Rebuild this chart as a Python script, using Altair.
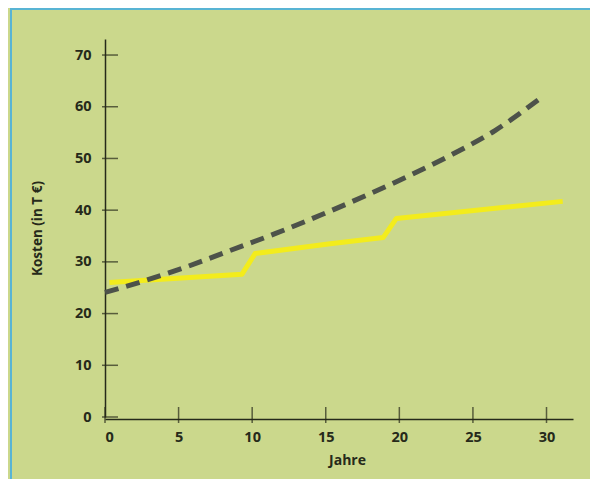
import altair as alt
import pandas as pd

# Data
years_dashed = [0, 2.3, 5.3, 8.5, 11.6, 14.7, 17.7, 20.7, 23.6, 26.5, 29.7]
costs_dashed = [24.1, 26.0, 28.8, 32.2, 35.5, 39.1, 42.8, 46.7, 50.8, 55.4, 61.9]

years_yellow = [0.3, 9.3, 10.2, 15.3, 18.9, 19.8, 31.1]
costs_yellow = [26.0, 27.6, 31.6, 33.5, 34.7, 38.4, 41.7]

x_ticks = [0, 5, 10, 15, 20, 25, 30]
y_ticks = [0, 10, 20, 30, 40, 50, 60, 70]

BG = "#cbd88c"
INK = "#262a1a"
FONT = "Open Sans"

df_d = pd.DataFrame({"Jahre": years_dashed, "Kosten": costs_dashed})
df_y = pd.DataFrame({"Jahre": years_yellow, "Kosten": costs_yellow})
df_xt = pd.DataFrame({"v": x_ticks})
df_yt = pd.DataFrame({"v": y_ticks})

xscale = alt.Scale(domain=[0, 31.8], nice=False, zero=False)
yscale = alt.Scale(domain=[0, 73.1], nice=False, zero=False)

xaxis = alt.Axis(
    values=x_ticks, title="Jahre", grid=False, ticks=False, offset=2,
    domainColor=INK, domainWidth=1.5, labelColor=INK, labelFont=FONT,
    labelFontSize=14.5, labelFontWeight=700, labelPadding=18, labelBaseline="middle",
    titleFont=FONT, titleFontSize=14, titleFontWeight=700, titleColor=INK,
    titleX=242, titleY=41, titleBaseline="middle", titleAlign="center",
)
yaxis = alt.Axis(
    values=y_ticks, title="Kosten (in T €)", grid=False, ticks=False,
    domainColor=INK, domainWidth=1.5, labelColor=INK, labelFont=FONT,
    labelFontSize=14.5, labelFontWeight=700, labelPadding=14,
    titleFont=FONT, titleFontSize=13.5, titleFontWeight=700, titleColor=INK,
    titleX=-68, titleY=189, titleAngle=-90, titleBaseline="middle", titleAlign="center",
)

base_axes = alt.Chart(df_d).mark_point(opacity=0).encode(
    x=alt.X("Jahre:Q", scale=xscale, axis=xaxis),
    y=alt.Y("Kosten:Q", scale=yscale, axis=yaxis),
)

yellow = alt.Chart(df_y).mark_line(color="#f3ec1c", strokeWidth=5, strokeJoin="round").encode(
    x=alt.X("Jahre:Q", scale=xscale),
    y=alt.Y("Kosten:Q", scale=yscale),
)

dashed = alt.Chart(df_d).mark_line(
    color="#4d524a", strokeWidth=5, strokeDash=[14, 8], interpolate="monotone"
).encode(
    x=alt.X("Jahre:Q", scale=xscale),
    y=alt.Y("Kosten:Q", scale=yscale),
)

xticks = alt.Chart(df_xt).mark_tick(orient="vertical", color=INK, thickness=1.5, size=16).encode(
    x=alt.X("v:Q", scale=xscale),
    y=alt.value(376),
)
yticks = alt.Chart(df_yt).mark_tick(orient="horizontal", color=INK, thickness=1.5, size=16).encode(
    y=alt.Y("v:Q", scale=yscale),
    x=alt.value(5),
)

border_left = alt.Chart(df_xt.head(1)).mark_rule(color="#58b4d4", strokeWidth=2).encode(
    x=alt.value(-94), y=alt.value(-31), y2=alt.value(440)
)
border_top = alt.Chart(df_xt.head(1)).mark_rule(color="#58b4d4", strokeWidth=2).encode(
    y=alt.value(-30), x=alt.value(-95), x2=alt.value(485)
)

chart = alt.layer(
    base_axes, yellow, dashed, xticks, yticks, border_left, border_top
).properties(
    width=468, height=378,
    autosize=alt.AutoSizeParams(type="none"),
    padding={"left": 97, "top": 31, "right": 17, "bottom": 62},
    background=BG,
).configure_view(strokeWidth=0)

chart.save("out.html", embed_options={"renderer": "svg", "actions": False})
